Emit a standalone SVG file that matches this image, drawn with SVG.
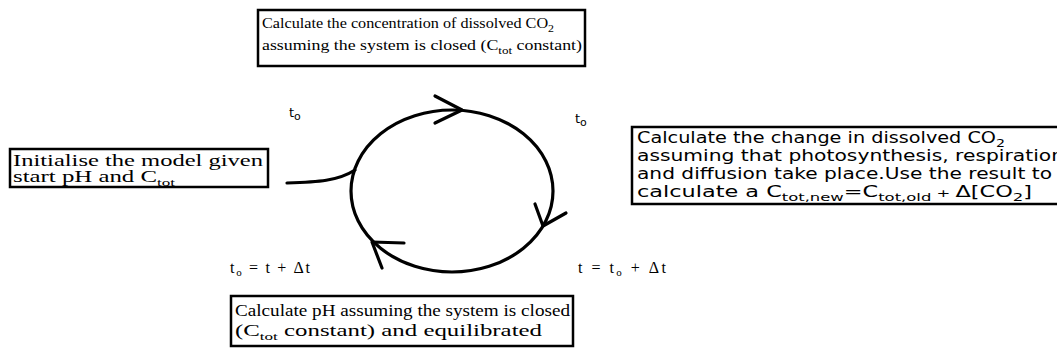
<svg xmlns="http://www.w3.org/2000/svg" width="1057" height="356" viewBox="0 0 1057 356">
<style>
.box{fill:#fff;stroke:#000;stroke-width:2.5}
.serif{font-family:"Liberation Serif","Times New Roman",serif;font-size:16px;fill:#000}
.serif1{font-family:"Liberation Serif","Times New Roman",serif;font-size:15px;fill:#000}
.serif2{font-family:"Liberation Serif","Times New Roman",serif;font-size:16px;fill:#000}
.sans{font-family:"DejaVu Sans","Verdana",sans-serif;font-size:15px;fill:#000}
.lbl{font-family:"DejaVu Sans","Verdana",sans-serif;font-size:13px;fill:#000}
.sub{font-size:11px}
.line{fill:none;stroke:#000;stroke-width:3.2;stroke-linecap:round;stroke-linejoin:round}
</style>
<rect width="1057" height="356" fill="#fff"/>
<g id="connectors">
<ellipse class="line" cx="452" cy="191" rx="101" ry="81"/>
<path class="line" d="M287,183 C318,182 338,181 355,170"/>
<path class="line" d="M435,96 L462,110 L435,123"/>
<path class="line" d="M535,204 L543,226 L566,213"/>
<path class="line" d="M404,243 L372,242 L382,268"/>
</g>
<g id="node-top">
<rect class="box" x="258" y="10" width="327" height="56"/>
<text class="serif1" x="262" y="28" textLength="292" lengthAdjust="spacingAndGlyphs">Calculate the concentration of dissolved CO<tspan class="sub" dy="4">2</tspan></text>
<text class="serif1" x="262" y="50" textLength="320" lengthAdjust="spacingAndGlyphs">assuming the system is closed (C<tspan class="sub" dy="4">tot</tspan><tspan dy="-4"> constant)</tspan></text>
</g>
<g id="node-left">
<rect class="box" x="10" y="149" width="258" height="38"/>
<text class="serif2" x="13" y="166" textLength="250" lengthAdjust="spacingAndGlyphs">Initialise the model given</text>
<text class="serif2" x="13" y="182" textLength="162" lengthAdjust="spacingAndGlyphs">start pH and C<tspan class="sub" dy="4">tot</tspan></text>
</g>
<g id="node-right">
<rect class="box" x="632" y="127" width="440" height="77"/>
<text class="sans" x="637" y="143" textLength="368" lengthAdjust="spacingAndGlyphs">Calculate the change in dissolved CO<tspan class="sub" dy="4">2</tspan></text>
<text class="sans" x="637" y="161" textLength="427" lengthAdjust="spacingAndGlyphs">assuming that photosynthesis, respiration</text>
<text class="sans" x="637" y="179" textLength="415" lengthAdjust="spacingAndGlyphs">and diffusion take place.Use the result to</text>
<text class="sans" x="637" y="197" textLength="395" lengthAdjust="spacingAndGlyphs">calculate a C<tspan class="sub" dy="4">tot,new</tspan><tspan dy="-4">=C</tspan><tspan class="sub" dy="4">tot,old</tspan><tspan dy="-4" class="sub"> + </tspan><tspan>Δ[CO</tspan><tspan class="sub" dy="4">2</tspan><tspan dy="-4">]</tspan></text>
</g>
<g id="node-bottom">
<rect class="box" x="231" y="296" width="342" height="50"/>
<text class="serif2" x="235" y="316" textLength="335" lengthAdjust="spacingAndGlyphs">Calculate pH assuming the system is closed</text>
<text class="serif2" x="235" y="336" textLength="307" lengthAdjust="spacingAndGlyphs">(C<tspan class="sub" dy="4">tot</tspan><tspan dy="-4"> constant) and equilibrated</tspan></text>
</g>
<g id="labels">
<text class="lbl" x="289" y="117">t<tspan class="sub" dy="3">o</tspan></text>
<text class="lbl" x="575" y="123">t<tspan class="sub" dy="3">o</tspan></text>
<text class="serif" x="230" y="273" textLength="80">t<tspan class="sub" dy="3">o</tspan><tspan dy="-3"> = t + Δt</tspan></text>
<text class="serif" x="578" y="273" textLength="88">t = t<tspan class="sub" dy="3">o</tspan><tspan dy="-3"> + Δt</tspan></text>
</g>
</svg>
